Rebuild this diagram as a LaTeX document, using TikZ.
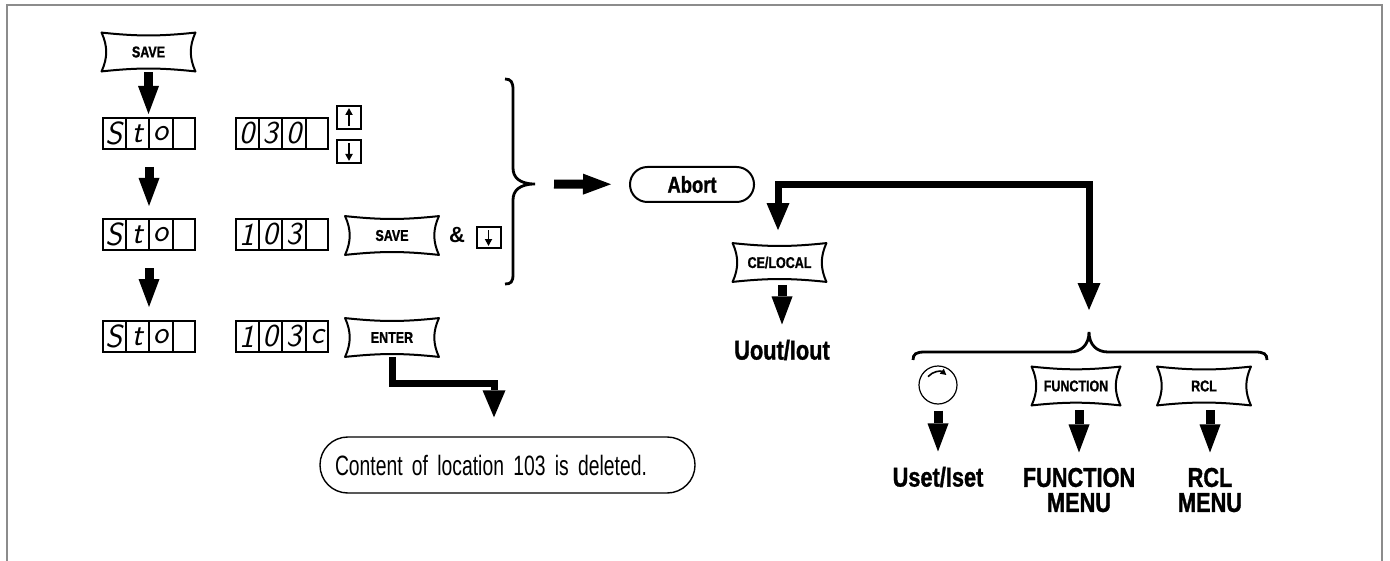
\documentclass[tikz,border=0pt]{standalone}
\usepackage{fontspec}
\setmainfont{Liberation Sans}
\newfontfamily\condfont{Liberation Sans}[FakeStretch=0.8, BoldFeatures={FakeBold=1.2}]
\newfontfamily\narrowfont{Liberation Sans}[FakeStretch=0.69]
\usetikzlibrary{arrows.meta,positioning,shapes.multipart}

\begin{document}
\begin{tikzpicture}[x=0.5pt, y=-0.5pt,
    keyline/.style={draw, line width=1pt, line cap=round},
    key/.style={minimum width=46.5pt, minimum height=19pt, inner sep=0pt,
                font=\condfont\bfseries\fontsize{7.8}{8}\selectfont,
                append after command={
                  (\tikzlastnode.north west) edge[keyline, bend right=6] (\tikzlastnode.north east)
                  (\tikzlastnode.north east) edge[keyline, bend right=24] (\tikzlastnode.south east)
                  (\tikzlastnode.south east) edge[keyline, bend right=6] (\tikzlastnode.south west)
                  (\tikzlastnode.south west) edge[keyline, bend right=24] (\tikzlastnode.north west)}},
    disp/.style={rectangle split, rectangle split horizontal, rectangle split parts=4,
                 draw, line width=1pt, inner xsep=0pt, inner ysep=0pt,
                 text width=10.75pt, align=center, minimum height=15.5pt,
                 rectangle split empty part width=10.75pt,
                 font=\sffamily\itshape\fontsize{16}{16}\selectfont},
    arrkey/.style={draw, line width=1pt, minimum width=12pt, minimum height=11.5pt, inner sep=0pt},
    keyarr/.style={line width=0.9pt, -{Triangle[length=3.5pt, width=3.5pt]}},
    abortbox/.style={draw, line width=1pt, rounded corners=8.7pt, minimum width=62pt,
                     minimum height=17.5pt, inner sep=0pt,
                     font=\condfont\bfseries\fontsize{11.5}{12}\selectfont},
    msg/.style={draw, line width=0.7pt, rounded corners=13.9pt, minimum width=187.5pt,
                minimum height=28pt, text width=172.5pt, align=left, inner xsep=7.5pt,
                font=\narrowfont\fontsize{14}{16}\selectfont},
    result/.style={font=\condfont\bfseries\fontsize{13.6}{12.5}\selectfont,
                   align=center, inner sep=0pt},
    knobbox/.style={circle, draw, line width=0.6pt, minimum size=19pt, inner sep=0pt},
    darr/.style={line width=4.5pt, -{Triangle[length=14pt, width=10.5pt, line width=0pt]}},
    conn/.style={line width=3.5pt, -{Triangle[length=13.5pt, width=11.5pt, line width=0pt]}},
    bracket/.style={line width=1.4pt},
    pageframe/.style={draw=black!45, line width=0.7pt}
  ]
  \useasboundingbox (0,0) rectangle (1390,561);
  \draw[pageframe] (7,561) -- (7,5) -- (1382,5) -- (1382,561);

  % SAVE and first display row
  \node[key] (save1) at (148.5,52) {SAVE};
  \node[disp] (sto1) at (149,133.5) {S\nodepart{two}t\nodepart{three}o\nodepart{four}};
  \node[disp, right=19.5pt of sto1] (loc1) {0\nodepart{two}3\nodepart{three}0\nodepart{four}};
  \node[arrkey] (up) at (349,117.5) {};
  \node[arrkey] (down) at (349,151.5) {};
  \draw[keyarr] ([yshift=2pt]up.south) -- ([yshift=-1.5pt]up.north);
  \draw[keyarr] ([yshift=-2pt]down.north) -- ([yshift=1.5pt]down.south);

  % second row
  \node[disp] (sto2) at (149,234.5) {S\nodepart{two}t\nodepart{three}o\nodepart{four}};
  \node[disp, right=19.5pt of sto2] (loc2) {1\nodepart{two}0\nodepart{three}3\nodepart{four}};
  \node[key] (save2) at (392,235.5) {SAVE};
  \node[font=\bfseries\fontsize{11}{12}\selectfont] (amp) at (457,235) {\&};
  \node[arrkey, minimum height=10.5pt] (down2) at (488.5,237.5) {};
  \draw[keyarr] ([yshift=-2pt]down2.north) -- ([yshift=1.5pt]down2.south);

  % third row
  \node[disp] (sto3) at (149,336.5) {S\nodepart{two}t\nodepart{three}o\nodepart{four}};
  \node[disp, right=19.5pt of sto3] (loc3) {1\nodepart{two}0\nodepart{three}3\nodepart{four}c};
  \node[key] (enter) at (392,337.5) {ENTER};

  \draw[darr, shorten <=0.5pt, shorten >=1.5pt] (save1.south) -- (save1.south |- sto1.north);
  \draw[darr, shorten <=8.5pt, shorten >=6pt] (sto1.south) -- (sto2.north);
  \draw[darr, shorten <=8.5pt, shorten >=6.5pt] (sto2.south) -- (sto3.north);

  % message
  \node[msg] (msg) at (507.5,465) {Content of location 103 is deleted.};
  \coordinate (turn) at (494,383);
  \draw[conn, shorten >=9.5pt] (enter.south) |- (turn) -- (turn |- msg.north);

  % brace and Abort
  \draw[bracket] (505,79) .. controls (511,79) and (513,82) .. (513,90) -- (513,168)
    .. controls (513,177) and (519,184) .. (535,184)
    .. controls (519,184) and (513,191) .. (513,200) -- (513,274)
    .. controls (513,282) and (511,284) .. (505,284);
  \coordinate (tip1) at (535,184);
  \node[abortbox] (abort) at (692,184.5) {Abort};
  \draw[darr, shorten <=9.5pt, shorten >=9pt] (tip1) -- (abort);

  % branches after Abort
  \coordinate (split) at (778,185);
  \coordinate (tip2) at (1089,332);
  \node[key] (ce) at (779.5,262.5) {CE/LOCAL};
  \draw[conn, line cap=rect, shorten >=6.5pt] (split) -- (split |- ce.north);
  \draw[conn, line cap=rect, shorten >=11pt] (split) -| (tip2);
  \node[result] (uout) at (782,350) {Uout/Iout};
  \draw[darr, shorten <=1.5pt, shorten >=7.5pt] (uout.north |- ce.south) -- (uout.north);

  % lower brace
  \draw[bracket] (913,360) .. controls (913,354) and (916,352) .. (925,352) -- (1070,352)
    .. controls (1081,352) and (1089,345) .. (1089,332)
    .. controls (1089,345) and (1097,352) .. (1108,352) -- (1255,352)
    .. controls (1264,352) and (1267,354) .. (1267,360);

  \node[knobbox] (knob) at (938,385) {};
  \draw[line width=0.8pt, -{Triangle[length=3pt, width=3pt]}]
    ([shift={(140:6.5pt)}]knob.center) arc[start angle=140, end angle=50, radius=6.5pt];
  \node[key, minimum width=44pt] (func) at (1076,386) {FUNCTION};
  \node[key] (rcl) at (1204,386) {RCL};

  \node[result] (uset) at (938,477) {Uset/Iset};
  \node[result] (fmenu) at (1079,490) {FUNCTION\\MENU};
  \node[result] (rmenu) at (1210,490) {RCL\\MENU};
  \draw[darr, shorten <=3pt, shorten >=7.5pt] (knob.south) -- (knob.south |- uset.north);
  \draw[darr, shorten <=2.5pt, shorten >=7.5pt] (fmenu.north |- func.south) -- (fmenu.north);
  \draw[darr, shorten <=2.5pt, shorten >=7.5pt] (rmenu.north |- rcl.south) -- (rmenu.north);
\end{tikzpicture}
\end{document}
